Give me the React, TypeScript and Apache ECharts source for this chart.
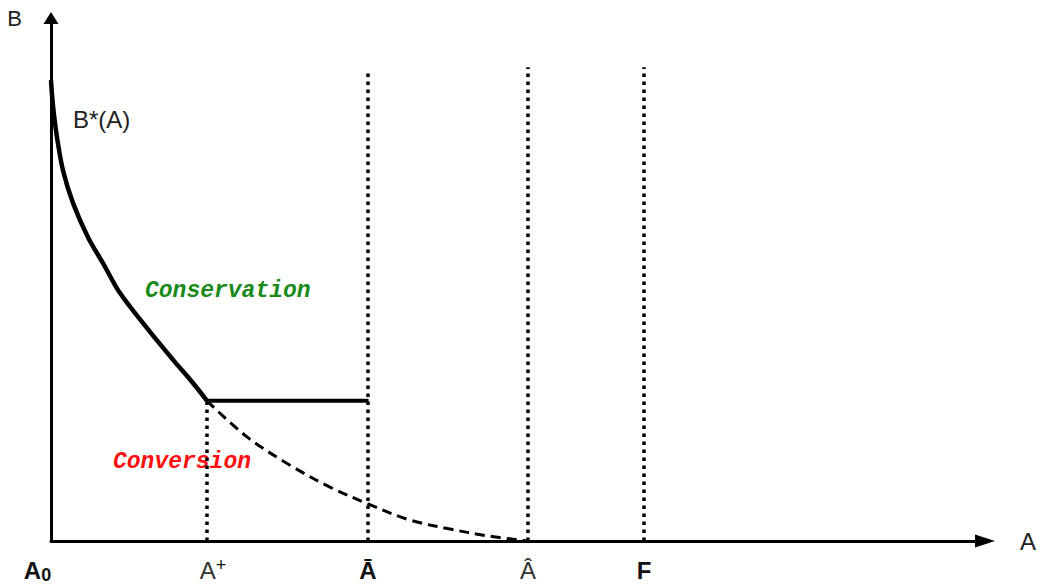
import React, { useEffect, useRef } from "react";
import * as echarts from "echarts";

// Frontier B*(A) (solid, thick)
const frontierA = [0, 0.11, 0.32, 0.64, 1.28, 2.36, 3.96, 5.67, 7.39, 10.28, 13.28, 15.2, 16.7];
const frontierB = [88.1, 85.3, 81.5, 77.2, 70.9, 64.6, 58.1, 52.8, 47.4, 40.7, 34.2, 30.2, 26.8];
// Continuation of the frontier (dashed)
const dashedA = [16.7, 20.99, 25.59, 29.87, 33.94, 38.44, 42.72, 46.68, 51.07];
const dashedB = [26.8, 19.9, 14.5, 10.3, 7.1, 4.0, 2.3, 1.0, 0];
// Flat segment from A+ to Ā
const plateauA = [16.7, 34.0];
const plateauB = 26.8;
// Markers on the A axis
const markerValues = [0, 16.7, 33.94, 51.07, 63.49];
const markerNames = ["A0", "A+", "Ā", "Â", "F"];
const markerTops = [0, 26.8, 90.1, 90.6, 90.6];

const markerRich: Record<string, string> = {
  A0: "{b|A}{sub|0}",
  "A+": "{np|A}{sup|+}",
  "Ā": "{b|Ā}",
  "Â": "{n|Â}",
  F: "{b|F}",
};

export default function App() {
  const ref = useRef<HTMLDivElement>(null);
  useEffect(() => {
    document.body.style.margin = "0";
    if (!ref.current) return;
    const chart = echarts.init(ref.current, undefined, { renderer: "svg" });
    const font = "Liberation Sans, Arial, sans-serif";
    const series: any[] = [
      {
        type: "line",
        data: frontierA.map((a, i) => [a, frontierB[i]]),
        smooth: 0.35,
        showSymbol: false,
        lineStyle: { color: "#000", width: 4.5 },
        z: 5,
      },
      {
        type: "line",
        data: plateauA.map((a) => [a, plateauB]),
        showSymbol: false,
        lineStyle: { color: "#000", width: 4 },
        z: 5,
      },
      {
        type: "line",
        data: dashedA.map((a, i) => [a, dashedB[i]]),
        smooth: 0.35,
        showSymbol: false,
        lineStyle: { color: "#000", width: 3, type: [10, 6] },
        z: 4,
      },
    ];
    for (let i = 1; i < markerValues.length; i++) {
      series.push({
        type: "line",
        data: [
          [markerValues[i], 0],
          [markerValues[i], markerTops[i]],
        ],
        showSymbol: false,
        lineStyle: { color: "#000", width: 3.5, type: [3.5, 4.5], cap: "butt" },
        z: 3,
      });
    }
    chart.setOption({
      animation: false,
      backgroundColor: "#fff",
      grid: { left: 51, right: 57, top: 18, bottom: 47, outerBoundsMode: "none" },
      xAxis: {
        type: "value",
        min: 0,
        max: 100,
        name: "A",
        nameLocation: "end",
        nameGap: 26,
        nameTextStyle: { fontFamily: font, fontSize: 24, color: "#222", padding: [50, 0, 0, 9] },
        axisLine: {
          lineStyle: { color: "#000", width: 3 },
          symbol: ["none", "triangle"],
          symbolSize: [13, 20],
        },
        axisTick: { show: false },
        splitLine: { show: false },
        axisLabel: {
          customValues: markerValues,
          margin: 15,
          formatter: (v: number) => {
            let best = 0;
            for (let i = 0; i < markerValues.length; i++) {
              if (Math.abs(markerValues[i] - v) < Math.abs(markerValues[best] - v)) best = i;
            }
            return markerRich[markerNames[best]];
          },
          rich: {
            b: { fontFamily: font, fontSize: 24, fontWeight: "bold", lineHeight: 28, color: "#111" },
            n: { fontFamily: font, fontSize: 24, lineHeight: 28, color: "#333" },
            np: { fontFamily: font, fontSize: 24, lineHeight: 28, color: "#333", padding: [0, 0, 0, 12] },
            sub: { fontFamily: font, fontSize: 18, fontWeight: "bold", lineHeight: 16, verticalAlign: "bottom", color: "#111", padding: [0, 27, 0, 0] },
            sup: { fontFamily: font, fontSize: 18, lineHeight: 16, verticalAlign: "top", color: "#111" },
          },
        },
      },
      yAxis: {
        type: "value",
        min: 0,
        max: 100,
        name: "B",
        nameLocation: "end",
        nameGap: 0,
        nameTextStyle: { fontFamily: font, fontSize: 22, color: "#222", align: "right", verticalAlign: "middle", padding: [0, 29, 0, 0] },
        axisLine: {
          lineStyle: { color: "#000", width: 3 },
          symbol: ["none", "triangle"],
          symbolSize: [15, 12],
        },
        axisTick: { show: false },
        splitLine: { show: false },
        axisLabel: { show: false },
      },
      graphic: [
        {
          type: "text",
          left: 73,
          top: 107,
          style: { text: "B*(A)", fontFamily: font, fontSize: 24, fill: "#222" },
        },
        {
          type: "text",
          left: 145,
          top: 279,
          style: { text: "Conservation", fontFamily: "Liberation Mono, Courier New, monospace", fontSize: 23, fontWeight: "bold", fontStyle: "italic", fill: "#1a8a1a" },
        },
        {
          type: "text",
          left: 113,
          top: 450,
          style: { text: "Conversion", fontFamily: "Liberation Mono, Courier New, monospace", fontSize: 23, fontWeight: "bold", fontStyle: "italic", fill: "#ff1010" },
        },
      ],
      series,
    });
    return () => chart.dispose();
  }, []);
  return <div ref={ref} style={{ width: 1042, height: 588 }} />;
}
